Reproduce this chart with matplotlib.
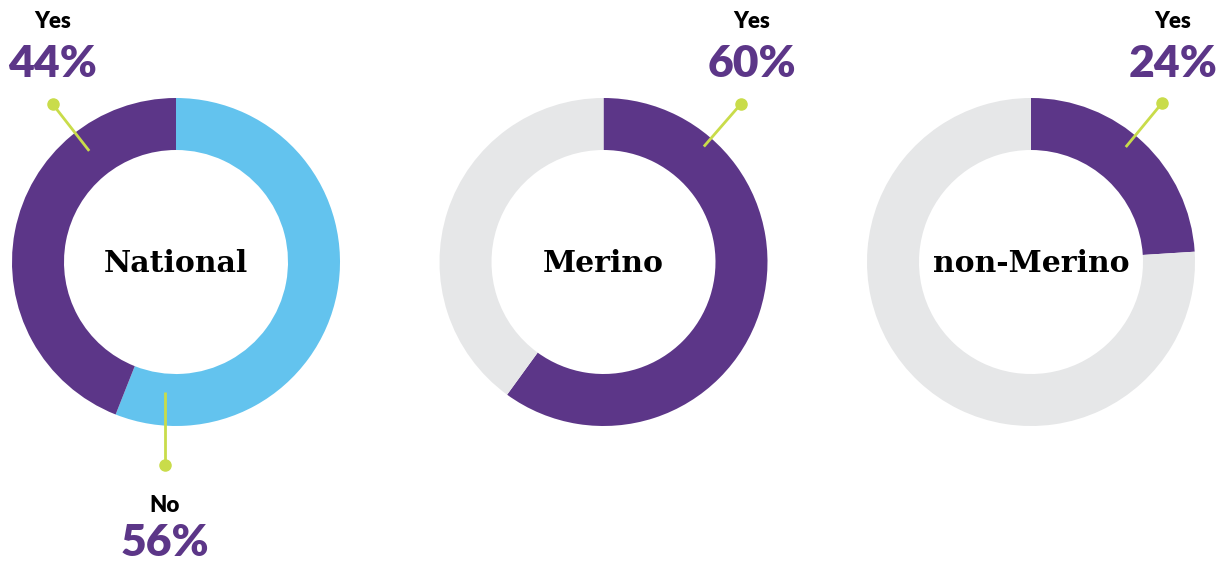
import numpy as np
import matplotlib.pyplot as plt

W, H = 1227, 564

groups = ['National', 'Merino', 'non-Merino']
yes_pct = [44, 60, 24]
no_pct = [56, 40, 76]

purple = '#5c3688'
blue = '#63c3ee'
grey = '#e6e7e8'
lime = '#c9dc4a'

# layout in pixel units (y measured from the top)
centers_x = [176, 603.5, 1031]
center_y = 262
r_out, width = 164, 52
lead_ang = [-38, 41, 39.5]
lead_r0 = [141, 153, 149]
lead_r1 = [200, 209, 206]
label_x = [53, 752, 1173]

fig = plt.figure(figsize=(W / 100, H / 100), dpi=100)
ax = fig.add_axes([0, 0, 1, 1])

pct_font = dict(family='Lato', fontweight='heavy', fontsize=32, color=purple)
lab_font = dict(family='Lato', fontweight='heavy', fontsize=16, color='black')


def py(y):
    return H - y


def polar(cx, ang, r):
    # ang in degrees, clockwise from top
    a = np.radians(ang)
    return cx + r * np.sin(a), center_y - r * np.cos(a)


for i, name in enumerate(groups):
    cx = centers_x[i]
    if i == 0:
        vals, cols = [no_pct[i], yes_pct[i]], [blue, purple]
    else:
        vals, cols = [yes_pct[i], no_pct[i]], [purple, grey]
    ax.pie(vals, colors=cols, startangle=90, counterclock=False,
           center=(cx, py(center_y)), radius=r_out,
           wedgeprops=dict(width=width, linewidth=0))
    ax.text(cx, py(center_y + 2), name, ha='center', va='center',
            fontsize=21.5, fontweight='bold', family='DejaVu Serif')

    # leader for "Yes"
    x0, y0 = polar(cx, lead_ang[i], lead_r0[i])
    x1, y1 = polar(cx, lead_ang[i], lead_r1[i])
    ax.plot([x0, x1], [py(y0), py(y1)], color=lime, lw=2, solid_capstyle='butt')
    ax.plot(x1, py(y1), 'o', color=lime, ms=8)
    ax.text(label_x[i], py(22), 'Yes', ha='center', va='center', **lab_font)
    ax.text(label_x[i], py(64), f'{yes_pct[i]}%', ha='center', va='center', **pct_font)

# leader for "No" on the national chart
nx = centers_x[0] - 11
ax.plot([nx, nx], [py(392), py(465)], color=lime, lw=2, solid_capstyle='butt')
ax.plot(nx, py(465), 'o', color=lime, ms=8)
ax.text(nx, py(506), 'No', ha='center', va='center', **lab_font)
ax.text(nx, py(543), f'{no_pct[0]}%', ha='center', va='center', **pct_font)

ax.set_xlim(0, W)
ax.set_ylim(0, H)
ax.set_aspect('auto')
ax.axis('off')

fig.savefig('out.png', dpi=100)
